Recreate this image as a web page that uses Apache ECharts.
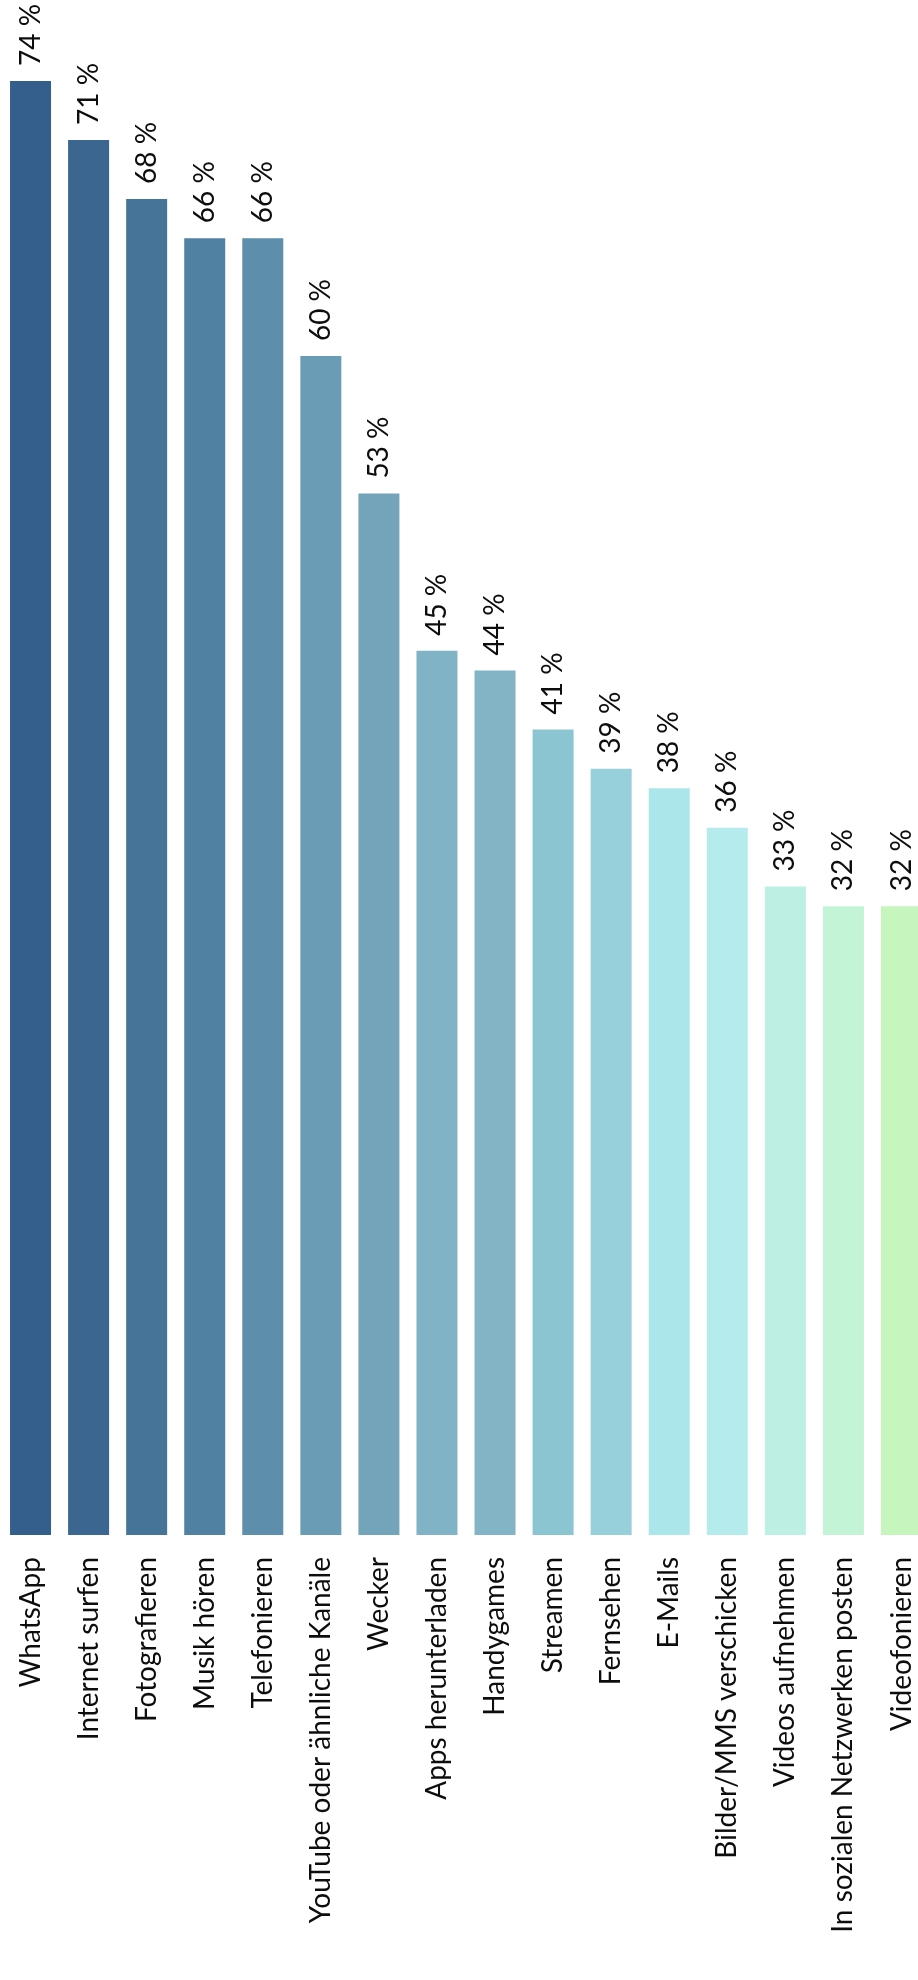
<!DOCTYPE html>
<html>
<head>
<meta charset="utf-8">
<script src="https://cdn.jsdelivr.net/npm/echarts@6/dist/echarts.min.js"></script>
<style>html,body{margin:0;padding:0;background:#fff}#c{width:918px;height:1980px}</style>
</head>
<body>
<div id="c"></div>
<script>
const categories = ['WhatsApp','Internet surfen','Fotografieren','Musik hören','Telefonieren','YouTube oder ähnliche Kanäle','Wecker','Apps herunterladen','Handygames','Streamen','Fernsehen','E-Mails','Bilder/MMS verschicken','Videos aufnehmen','In sozialen Netzwerken posten','Videofonieren'];
const values = [74,71,68,66,66,60,53,45,44,41,39,38,36,33,32,32];
const colors = ['#345f8c','#3a6690','#467498','#5081a3','#5d8eab','#6a9db5','#74a4ba','#81b3c6','#82b4c6','#8cc5d2','#97cfda','#abe6ea','#b6ebee','#bdf0e3','#c3f4d6','#c6f5bd'];
const font = 'Lato, "Open Sans", sans-serif';
const chart = echarts.init(document.getElementById('c'));
chart.setOption({
  animation: false,
  grid: {left: 1.5, width: 929, top: 81, bottom: 445, containLabel: false, outerBoundsMode: 'none'},
  xAxis: {
    type: 'category', data: categories,
    axisLine: {show: false}, axisTick: {show: false},
    axisLabel: {rotate: 90, margin: 22, interval: 0, color: '#0d0d0d', fontSize: 28, fontFamily: font}
  },
  yAxis: {type: 'value', min: 0, max: 74, show: false, splitLine: {show: false}},
  series: [{
    type: 'bar', barWidth: 41,
    data: values.map((v, i) => ({value: v, itemStyle: {color: colors[i]}})),
    label: {show: true, position: 'top', rotate: 90, align: 'left', verticalAlign: 'middle', distance: 15,
      color: '#0d0d0d', fontSize: 28, fontFamily: font, formatter: p => p.value + ' %'}
  }]
});
</script>
</body>
</html>
